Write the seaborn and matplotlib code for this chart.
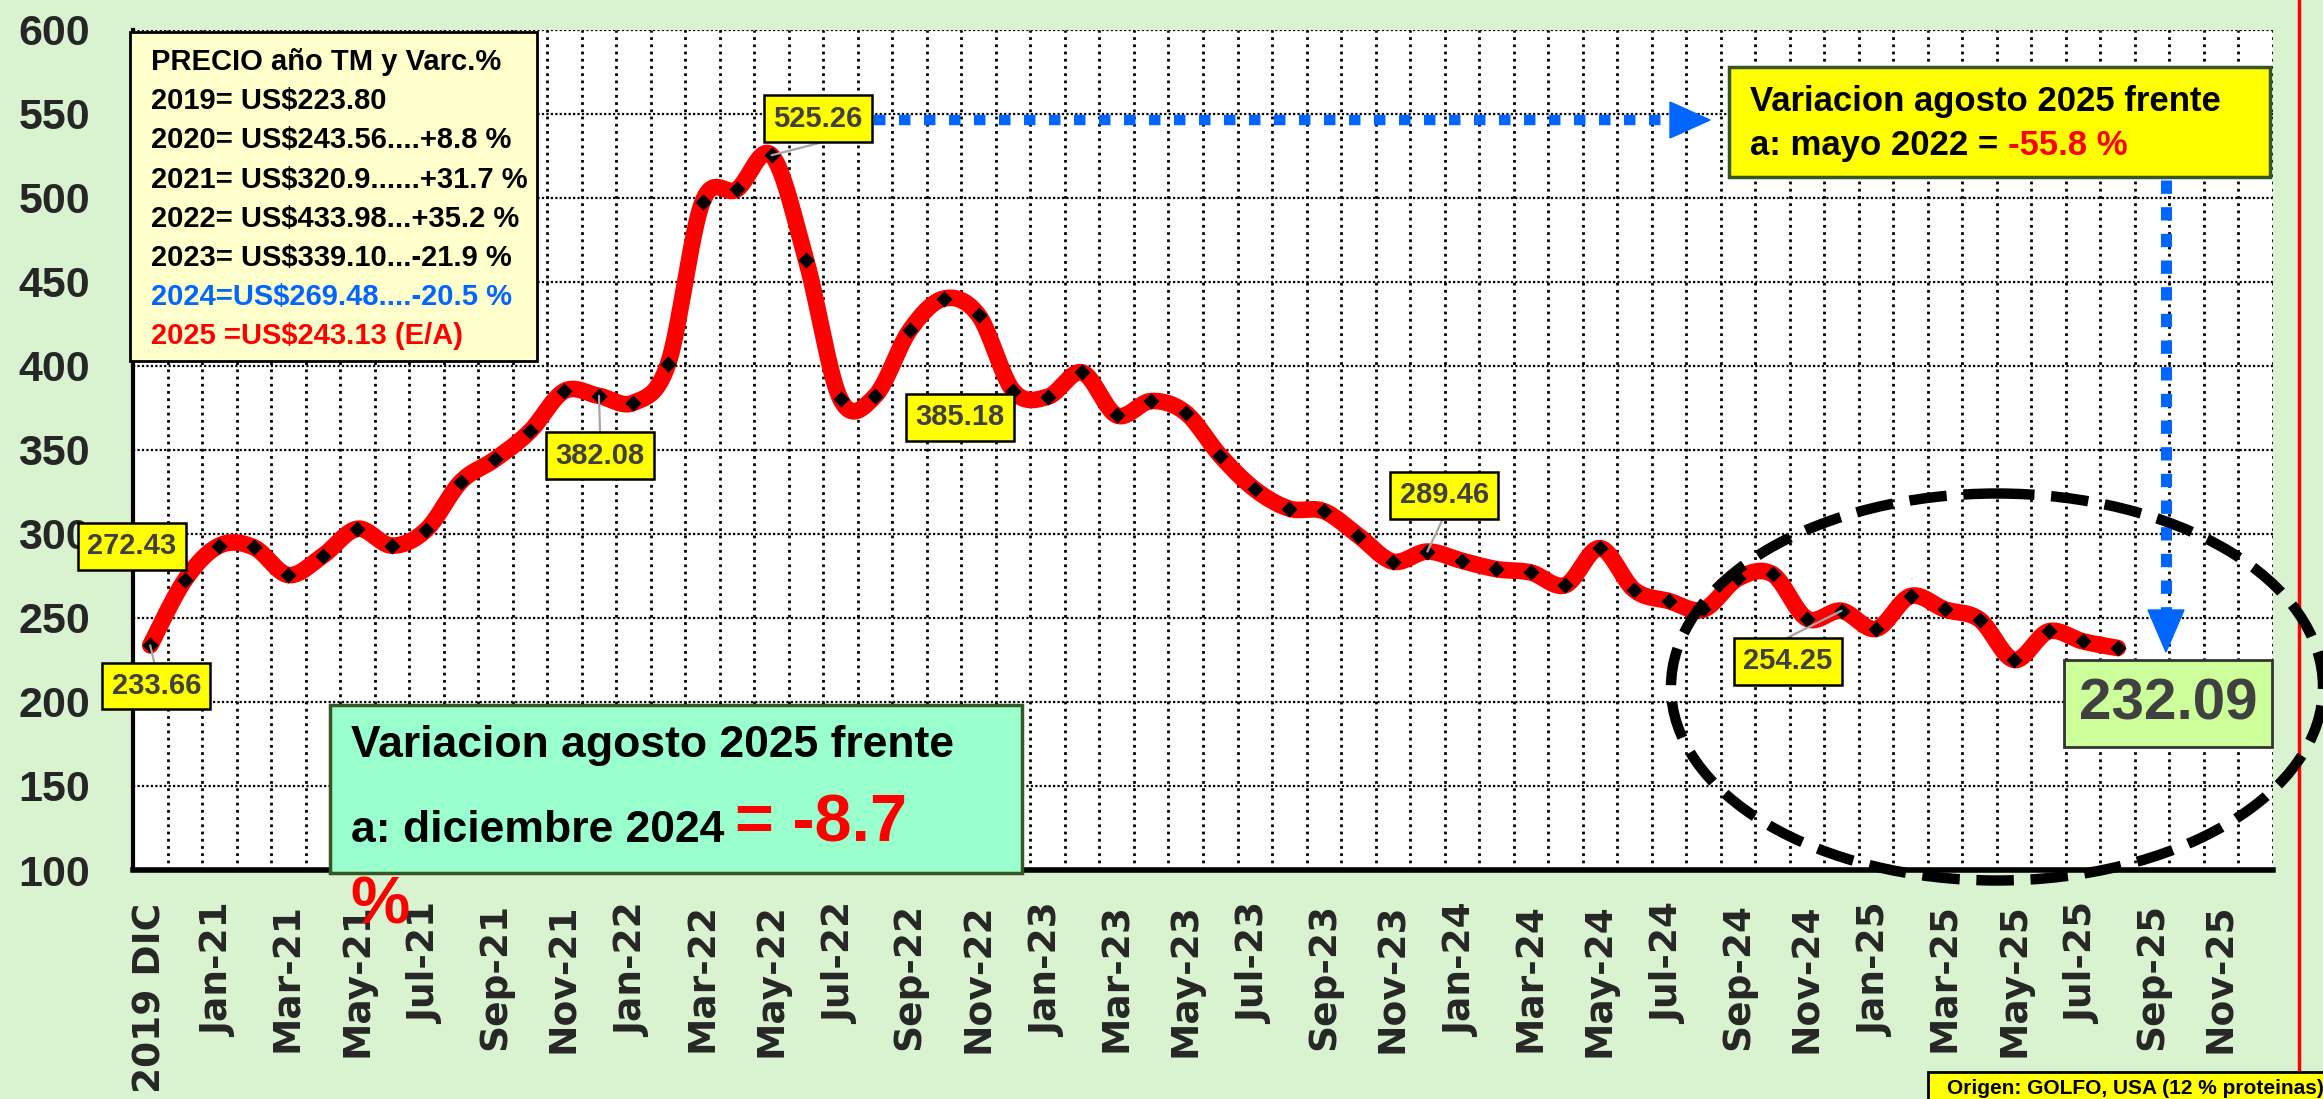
import numpy as np
import matplotlib
matplotlib.use("Agg")
import matplotlib.pyplot as plt
import seaborn as sns
from matplotlib.patches import Rectangle, Ellipse, Polygon
from matplotlib.lines import Line2D
from matplotlib.text import Annotation
from matplotlib.transforms import Affine2D

W, H = 2323, 1099
BG = "#d9f2d0"

# categories (only every second one is labelled on the axis)
months = [
    "2019 DIC", "Dec-20",
    "Jan-21", "Feb-21", "Mar-21", "Apr-21", "May-21", "Jun-21",
    "Jul-21", "Aug-21", "Sep-21", "Oct-21", "Nov-21", "Dec-21",
    "Jan-22", "Feb-22", "Mar-22", "Apr-22", "May-22", "Jun-22",
    "Jul-22", "Aug-22", "Sep-22", "Oct-22", "Nov-22", "Dec-22",
    "Jan-23", "Feb-23", "Mar-23", "Apr-23", "May-23", "Jun-23",
    "Jul-23", "Aug-23", "Sep-23", "Oct-23", "Nov-23", "Dec-23",
    "Jan-24", "Feb-24", "Mar-24", "Apr-24", "May-24", "Jun-24",
    "Jul-24", "Aug-24", "Sep-24", "Oct-24", "Nov-24", "Dec-24",
    "Jan-25", "Feb-25", "Mar-25", "Apr-25", "May-25", "Jun-25",
    "Jul-25", "Aug-25", "Sep-25", "Oct-25", "Nov-25", "Dec-25",
]

# US$/TM (Dec-2019 .. Aug-2025)
prices = [
    233.66, 272.43,
    293.0, 292.0, 275.5, 287.0, 303.0, 293.0,
    302.5, 331.0, 344.5, 361.0, 385.0, 382.08,
    378.0, 401.0, 497.5, 505.0, 525.26, 463.0,
    380.0, 382.0, 421.0, 440.0, 430.0, 385.18,
    381.5, 396.0, 370.5, 379.0, 372.0, 346.5,
    326.5, 315.0, 313.5, 299.0, 283.5, 289.46,
    284.0, 279.0, 277.0, 269.5, 291.5, 266.5,
    260.0, 255.0, 273.5, 276.0, 249.5, 254.25,
    243.5, 263.0, 255.0, 249.0, 225.0, 242.0,
    236.0, 232.09,
]

y_ticks = [100, 150, 200, 250, 300, 350, 400, 450, 500, 550, 600]

legend_lines = [
    "PRECIO año TM y Varc.%",
    "2019= US$223.80",
    "2020= US$243.56....+8.8 %",
    "2021= US$320.9......+31.7 %",
    "2022= US$433.98...+35.2 %",
    "2023= US$339.10...-21.9 %",
    "2024=US$269.48....-20.5 %",
    "2025 =US$243.13 (E/A)",
]
legend_colors = ["black"] * 6 + ["#0066ff", "#ff0000"]

labelled_points = [0, 1, 13, 18, 25, 37, 49]


def smooth_curve(x, y, n=24):
    # Excel-like smoothed line: Catmull-Rom segments as cubic Beziers
    pts = np.column_stack([x, y]).astype(float)
    p = np.vstack([pts[0], pts, pts[-1]])
    t = np.linspace(0, 1, n, endpoint=False)[:, None]
    out = []
    for k in range(1, len(p) - 2):
        p0, p1, p2, p3 = p[k - 1], p[k], p[k + 1], p[k + 2]
        c1 = p1 + (p2 - p0) / 6
        c2 = p2 - (p3 - p1) / 6
        out.append((1 - t) ** 3 * p1 + 3 * (1 - t) ** 2 * t * c1
                   + 3 * (1 - t) * t ** 2 * c2 + t ** 3 * p2)
    out.append(pts[-1:])
    return np.vstack(out)


def chain_text(fig, prev, text, dx, dy, **kw):
    # text placed right after another text artist
    a = Annotation(text, xy=(1, 0), xycoords=prev, xytext=(dx, dy),
                   textcoords="offset points", ha="left", va="bottom",
                   annotation_clip=False, **kw)
    fig.add_artist(a)
    return a


sns.set_theme(style="white")
plt.rcParams["font.family"] = ["Liberation Sans", "DejaVu Sans"]
plt.rcParams["font.weight"] = "bold"

fig = plt.figure(figsize=(W / 100, H / 100), dpi=100, facecolor=BG)
ax = fig.add_axes([133 / W, 1 - 870 / H, (2273 - 133) / W, (870 - 29.6) / H])
ax.set_facecolor("white")
pix = Affine2D().scale(1 / W, -1 / H).translate(0, 1) + fig.transFigure

idx = np.arange(len(prices))
curve = smooth_curve(idx, prices)
sns.lineplot(x=curve[:, 0], y=curve[:, 1], sort=False, estimator=None,
             color="#ff0000", linewidth=12, ax=ax, zorder=3)
sns.scatterplot(x=idx, y=prices, marker="D", s=68, color="black",
                linewidth=0, ax=ax, zorder=4)

ax.set_xlim(-0.5, len(months) - 0.5)
ax.set_ylim(100, 600)
ax.set_xticks(range(0, len(months), 2))
ax.set_xticklabels(months[::2], rotation=90, family="DejaVu Sans",
                   fontweight="bold", fontsize=27)
ax.set_xticks(np.arange(0.5, len(months), 1), minor=True)
ax.set_yticks(y_ticks)
ax.set_yticklabels([str(v) for v in y_ticks], fontweight="bold", fontsize=31)
ax.tick_params(axis="x", which="both", length=0, pad=24)
ax.tick_params(axis="y", length=0, pad=31)
ax.set_xlabel("")
ax.set_ylabel("")

ax.grid(False)
ax.grid(True, which="minor", axis="x", color="black", linewidth=2,
        linestyle=(0, (1, 1.6)))
ax.grid(True, which="major", axis="y", color="black", linewidth=1.6,
        linestyle=(0, (1, 1)))
ax.set_axisbelow(True)
for side in ["top", "right"]:
    ax.spines[side].set_visible(False)
ax.spines["left"].set_linewidth(3)
ax.spines["left"].set_color("black")
ax.spines["bottom"].set_linewidth(4)
ax.spines["bottom"].set_color("black")

# legend box, top left
fig.add_artist(Rectangle((130, 32), 407, 329, transform=pix, facecolor="#ffffcc",
                         edgecolor="black", linewidth=2, zorder=5))
for k, (line, col) in enumerate(zip(legend_lines, legend_colors)):
    fig.text(151 / W, 1 - (62 + 39.2 * k) / H, line, color=col, fontsize=21,
             fontweight="bold", ha="left", va="center", zorder=6)

# data labels (yellow boxes)
label_layout = {
    0: ((0.18, 209.5), (0.12, 223.0)),
    1: ((-0.53, 292.5), None),
    13: ((13.03, 346.5), (13.03, 361.0)),
    18: ((19.35, 547.0), (19.4, 532.6)),
    25: ((23.46, 369.4), None),
    37: ((37.49, 323.0), (37.45, 309.0)),
    49: ((47.44, 224.2), (47.44, 238.3)),
}
for i in labelled_points:
    (bx, by), lead = label_layout[i]
    if lead is not None:
        ax.plot([i, lead[0]], [prices[i], lead[1]], color="#a6a6a6",
                linewidth=1.6, zorder=5, clip_on=False)
    ax.text(bx, by, f"{prices[i]:.2f}", color="#404040", fontsize=21,
            fontweight="bold", ha="center", va="center", zorder=7, clip_on=False,
            bbox=dict(boxstyle="square,pad=0.32", facecolor="#ffff00",
                      edgecolor="black", linewidth=1.8))

# last value, big green box
last = len(prices) - 1
fig.add_artist(Rectangle((2064, 660), 208, 87, transform=pix, facecolor="#ccff99",
                         edgecolor="#333333", linewidth=2, zorder=7))
fig.text(2168 / W, 1 - 704 / H, f"{prices[last]:.2f}", color="#404040",
         fontsize=42, fontweight="bold", ha="center", va="center", zorder=8)

# blue dotted arrows from the May-22 peak to the latest value
blue = "#0066ff"
fig.add_artist(Line2D([874, 1672], [120, 120], transform=pix, color=blue,
                      linewidth=7.5, dashes=(1.1, 1.3), dash_capstyle="butt",
                      zorder=6))
fig.add_artist(Polygon([(1670, 102), (1710, 120), (1670, 138)], closed=True,
                       transform=pix, facecolor=blue, edgecolor=blue, zorder=6))
fig.add_artist(Line2D([2166, 2166], [180, 612], transform=pix, color=blue,
                      linewidth=8, dashes=(1.2, 1.2), dash_capstyle="butt",
                      zorder=6))
fig.add_artist(Polygon([(2148, 610), (2166, 652), (2184, 610)], closed=True,
                       transform=pix, facecolor=blue, edgecolor=blue, zorder=6))

# top-right variation box
fig.add_artist(Rectangle((1729, 67), 541, 110, transform=pix, facecolor="#ffff00",
                         edgecolor="#375623", linewidth=2.5, zorder=7))
fig.text(1750 / W, 1 - 102 / H, "Variacion agosto 2025 frente", fontsize=25,
         fontweight="bold", ha="left", va="center", color="black", zorder=8)
t_may = fig.text(1750 / W, 1 - 145 / H, "a: mayo 2022 =", fontsize=25,
                 fontweight="bold", ha="left", va="center", color="black", zorder=8)
chain_text(fig, t_may, "-55.8 %", 7, 0, fontsize=25, fontweight="bold",
           color="#ff0000", zorder=8)

# bottom variation box
fig.add_artist(Rectangle((330, 705), 692, 168, transform=pix, facecolor="#99ffcc",
                         edgecolor="#375623", linewidth=2.5, zorder=7))
fig.text(351 / W, 1 - 745 / H, "Variacion agosto 2025 frente", fontsize=32,
         fontweight="bold", ha="left", va="center", color="black", zorder=8)
t_dic = fig.text(351 / W, 1 - 842 / H, "a: diciembre 2024", fontsize=32,
                 fontweight="bold", ha="left", va="baseline", color="black", zorder=8)
chain_text(fig, t_dic, "= -8.7", 8, -3.4, fontsize=48, fontweight="bold",
           color="#ff0000", zorder=8)
fig.text(380 / W, 1 - 907 / H, "%", fontsize=48, fontweight="bold",
         ha="center", va="center", color="#ff0000", zorder=9)

# red vertical line at the right border
fig.add_artist(Line2D([2299, 2299], [0, H], transform=pix, color="#ff0000",
                      linewidth=2.5, zorder=6))

# dashed ellipse around the last year
fig.add_artist(Ellipse((1997, 687), 652, 387, transform=pix, fill=False,
                       edgecolor="black", linewidth=7.5, linestyle=(0, (3.6, 1.6)),
                       zorder=9))

# source note, bottom right
fig.add_artist(Rectangle((1928, 1072), 420, 60, transform=pix, facecolor="#ffff00",
                         edgecolor="black", linewidth=2, zorder=7))
fig.text(1947 / W, 1 - 1088 / H, "Origen: GOLFO, USA (12 % proteinas)",
         fontsize=15, fontweight="bold", ha="left", va="center", color="black",
         zorder=8)

fig.savefig("out.png", dpi=100, facecolor=BG)
